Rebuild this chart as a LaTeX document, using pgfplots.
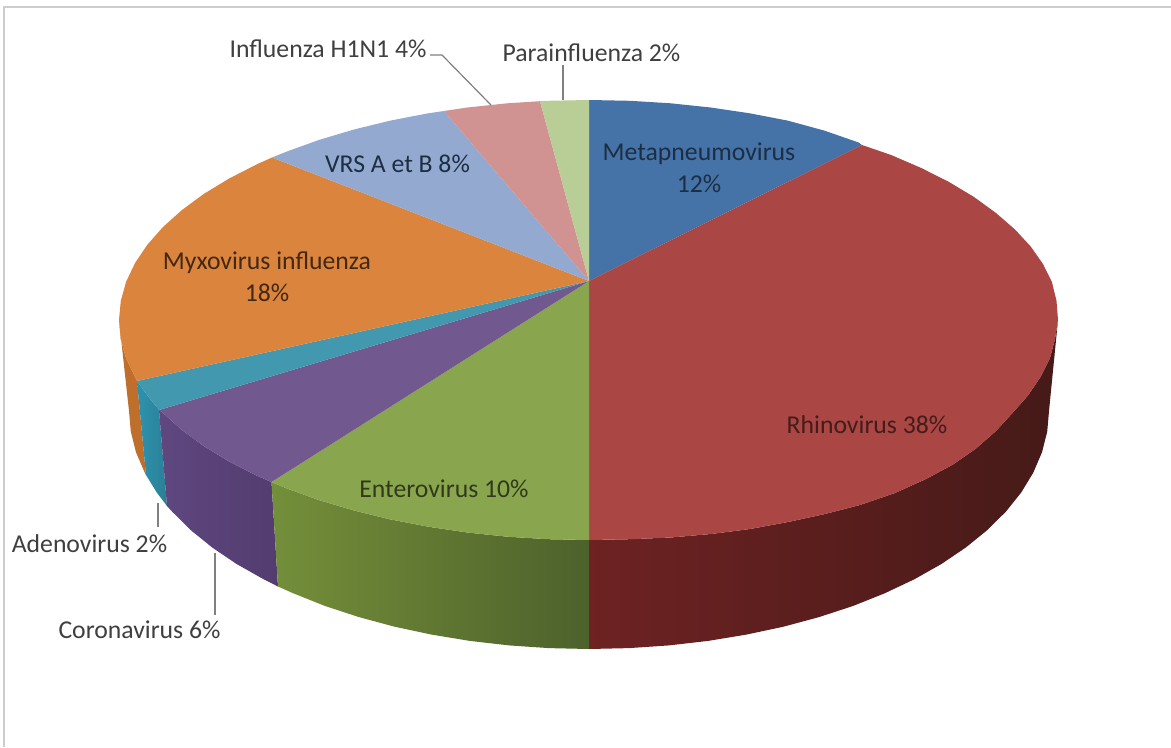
\documentclass[border=0pt]{standalone}
\usepackage{pgfplots}
\pgfplotsset{compat=1.18}
\usepackage{fontspec}
\setmainfont{Carlito}
\definecolor{cBlue}{HTML}{4572A7}
\definecolor{cRed}{HTML}{AA4643}
\definecolor{cGreen}{HTML}{89A54E}
\definecolor{cPurple}{HTML}{71588F}
\definecolor{cTeal}{HTML}{4198AF}
\definecolor{cOrange}{HTML}{DB843D}
\definecolor{cVrs}{HTML}{93A9CF}
\definecolor{cFlu}{HTML}{D19392}
\definecolor{cPara}{HTML}{B9CD96}
\definecolor{sRedL}{HTML}{6E2222}
\definecolor{sRedM}{HTML}{4A1B19}
\definecolor{sRedR}{HTML}{451A18}
\definecolor{sGreenL}{HTML}{748F3A}
\definecolor{sGreenR}{HTML}{4D612B}
\definecolor{sPurpL}{HTML}{5F4780}
\definecolor{sPurpR}{HTML}{533C6E}
\definecolor{sTealL}{HTML}{2E93AE}
\definecolor{sTealR}{HTML}{2A7F96}
\definecolor{sOrange}{HTML}{BF6F2C}
\definecolor{frameC}{HTML}{CDCDCD}
\definecolor{txt}{HTML}{3F3F3F}
\tikzset{lab/.style={font=\fontsize{25.8}{32}\selectfont, inner sep=0pt, align=center}}
\begin{document}
\begin{tikzpicture}
\begin{axis}[
  at={(0,0)}, anchor=south west, scale only axis,
  width=1171bp, height=747bp,
  xmin=0, xmax=1171, ymin=0, ymax=747, y dir=reverse,
  axis lines=none, clip=true,
]
% canvas and frame
\addplot[fill=white, draw=none] coordinates {(0,0) (1171,0) (1171,747) (0,747)};
\addplot[draw=frameC, line width=2.4pt] coordinates {(4,747) (4,7) (1171,7)};

% side faces
\addplot[draw=none, fill=sOrange] coordinates {
(137,381) (135,376.9) (126.1,358.2) (120.8,339.2) (119,320)
(129,411) (130.8,431.7) (136,452.3) (144.7,472.6) (146,475)};
\addplot[draw=none, left color=sTealL, right color=sTealR] coordinates {
(137,381) (147.3,395.2) (159,410) (167,506) (156.7,492.4) (146,475)};
\addplot[draw=none, left color=sPurpL, right color=sPurpR] coordinates {
(159,410) (163,413) (182,430) (204,446.2) (229,461.4) (256.7,475.6) (271.5,482)
(278,586.5) (263.7,579.3) (236.6,564) (212.2,547.5) (190.6,530) (172.1,511.6) (167,506)};
\addplot[draw=none, left color=sGreenL, right color=sGreenR] coordinates {
(271.5,482) (286.9,488.5) (319.4,500.2) (354,510.5) (390.4,519.4) (428.3,526.7) (467.4,532.5) (507.4,536.7) (548,539.2) (589,540)
(589,649) (548.9,648.1) (509.1,645.4) (469.9,640.9) (431.7,634.6) (394.6,626.7) (359,617.1) (325.1,606) (293.3,593.3) (278,586.5)};
\addplot[draw=none, left color=sRedL, middle color=sRedM, right color=sRedR] coordinates {
(589,540) (630,539.2) (670.6,537.5) (711,534) (750,529) (788,522) (825,514) (860,505) (895,493) (926,479) (953,464.5) (976,448.5) (996,431) (1012.5,413) (1028,395.5) (1040.5,377) (1050,358) (1055,339) (1058,320)
(1049,411) (1047.2,431.7) (1042,452.3) (1033.3,472.6) (1021.3,492.4) (1005.9,511.6) (987.4,530) (965.8,547.5) (941.4,564) (914.3,579.3) (884.7,593.3) (852.9,606) (819,617.1) (783.4,626.7) (746.3,634.6) (708.1,640.9) (668.9,645.4) (629.1,648.1) (589,649)};

% top faces
\addplot[draw=none, fill=cBlue] coordinates {
(589,281) (589,100) (630,100.8) (670.6,103.3) (710.6,107.5) (749.7,113.3) (787.6,120.6) (824,130.5) (858.6,142.5) (862,145)};
\addplot[draw=none, fill=cRed] coordinates {
(589,281) (862,145) (891.1,155) (921.3,168) (949,182) (974,197) (996,213) (1015,229.5) (1030.7,246.5) (1043,264) (1051.9,282) (1056.5,300.8) (1058,320)
(1055,339) (1050,358) (1040.5,377) (1028,395.5) (1012.5,413) (996,431) (976,448.5) (953,464.5) (926,479) (895,493) (860,505) (825,514) (788,522) (750,529) (711,534) (670.6,537.5) (630,539.2) (589,540)};
\addplot[draw=none, fill=cGreen] coordinates {
(589,281) (589,540) (548,539.2) (507.4,536.7) (467.4,532.5) (428.3,526.7) (390.4,519.4) (354,510.5) (319.4,500.2) (286.9,488.5) (271.5,482)};
\addplot[draw=none, fill=cPurple] coordinates {
(589,281) (271.5,482) (256.7,475.6) (229,461.4) (204,446.2) (182,430) (163,413) (159,410)};
\addplot[draw=none, fill=cTeal] coordinates {
(589,281) (159,410) (147.3,395.2) (137,381)};
\addplot[draw=none, fill=cOrange] coordinates {
(589,281) (137,381) (135,376.9) (126.1,358.2) (120.8,339.2) (119,320) (120.8,300.8) (126.1,281.8) (135,263.1) (147.3,244.8) (163,227) (182,210) (204,193.8) (229,178.6) (256.7,164.4) (272,157.5)};
\addplot[draw=none, fill=cVrs] coordinates {
(589,281) (272,157.5) (286.9,151.5) (319.4,139.8) (354,129.5) (390.4,120.6) (428.3,113.3) (444,111)};
\addplot[draw=none, fill=cFlu] coordinates {
(589,281) (444,111) (467.4,107.5) (507.4,103.3) (540,101.2)};
\addplot[draw=none, fill=cPara] coordinates {
(589,281) (540,101.2) (548,100.8) (589,100)};

% leader lines
\addplot[draw=gray, line width=1.2pt] coordinates {(430,55) (442,55) (491,105)};
\addplot[draw=gray, line width=1.2pt] coordinates {(563,65) (563,100)};
\addplot[draw=gray, line width=1.2pt] coordinates {(158,503) (158,527)};
\addplot[draw=gray, line width=1.2pt] coordinates {(215,553) (215,615)};

% labels
\node[lab, text=txt] at (axis cs:328,49) {Influenza H1N1 4\%};
\node[lab, text=txt] at (axis cs:591.5,53) {Parainfluenza 2\%};
\node[lab, text=cBlue!40!black] at (axis cs:699,168) {Metapneumovirus\\12\%};
\node[lab, text=cBlue!40!black] at (axis cs:397.5,164) {VRS A et B 8\%};
\node[lab, text=cOrange!30!black] at (axis cs:267,277) {Myxovirus influenza\\18\%};
\node[lab, text=cRed!40!black] at (axis cs:867,425) {Rhinovirus 38\%};
\node[lab, text=cGreen!35!black] at (axis cs:444,489) {Enterovirus 10\%};
\node[lab, text=txt] at (axis cs:89.5,544) {Adenovirus 2\%};
\node[lab, text=txt] at (axis cs:139.5,630) {Coronavirus 6\%};
\end{axis}
\end{tikzpicture}
\end{document}
